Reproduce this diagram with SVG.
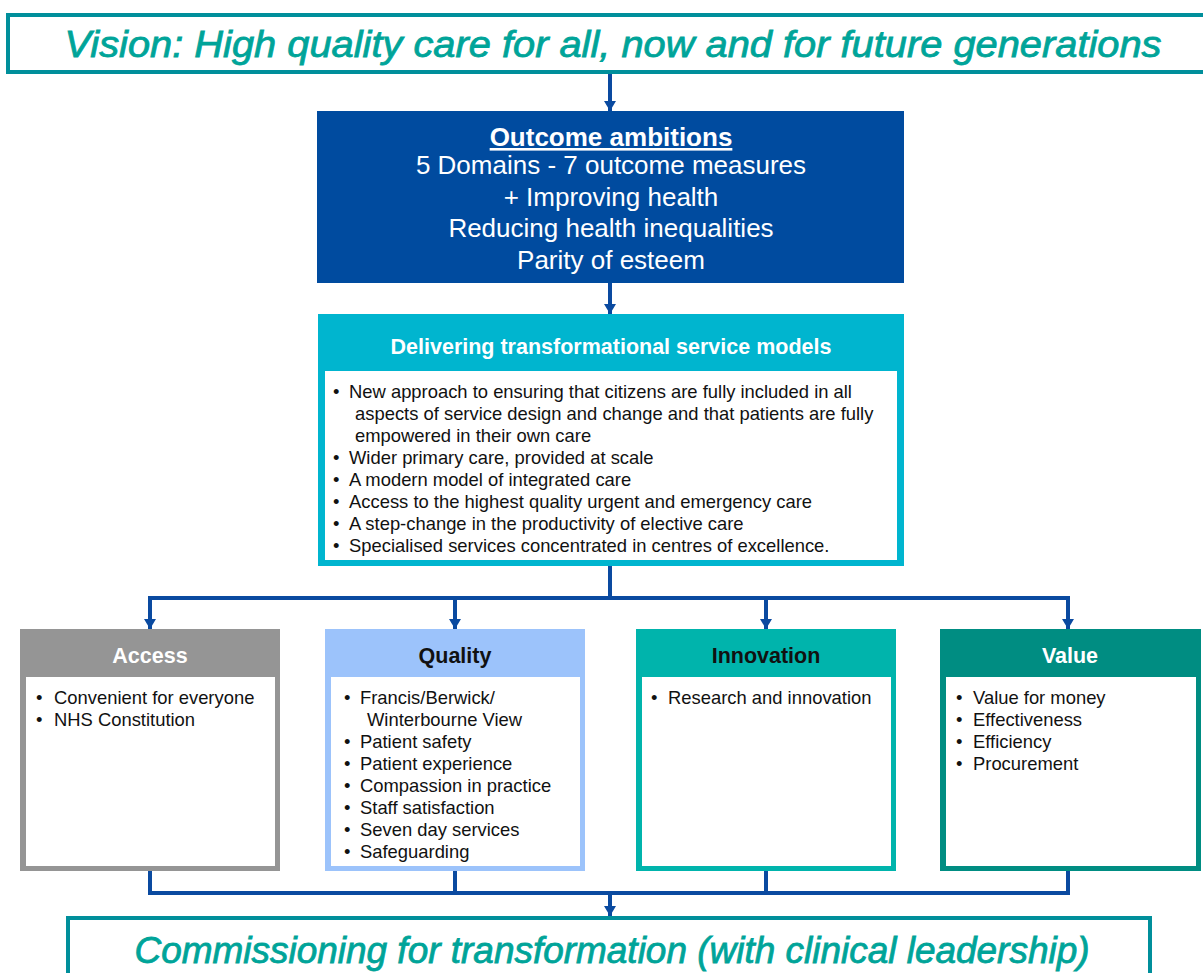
<svg xmlns="http://www.w3.org/2000/svg" width="1203" height="973" viewBox="0 0 1203 973">
<style>
text{font-family:"Liberation Sans",Arial,sans-serif}
.banner{fill:#fff;stroke:#008f9b;stroke-width:4}
.bannerText{fill:#00a499;stroke:#00a499;stroke-width:0.8;font-style:italic;font-size:37px}
.oc{fill:#fff;font-size:26px;text-anchor:middle}
.hdr{font-weight:bold;font-size:21.5px;text-anchor:middle}
.bul{font-size:18.4px;fill:#111}
.wire{fill:none;stroke:#0a4aa0;stroke-width:4}
.inner{fill:#fff}
</style>
<defs>
<marker id="ah" markerWidth="10" markerHeight="12" refX="10" refY="6" orient="auto" markerUnits="userSpaceOnUse" viewBox="0 0 10 12">
<path d="M0,0 L10,6 L0,12 Z" fill="#0a4aa0"/>
</marker>
</defs>

<g id="vision">
<rect class="banner" x="8" y="15" width="1200" height="57"/>
<text class="bannerText" x="613" y="57" text-anchor="middle" textLength="1097" lengthAdjust="spacingAndGlyphs">Vision: High quality care for all, now and for future generations</text>
</g>

<g id="outcome">
<rect x="317" y="111" width="587" height="172" fill="#004b9f"/>
<text class="oc" x="611" y="146" font-weight="bold" text-decoration="underline">Outcome ambitions</text>
<text class="oc" x="611" y="174">5 Domains  - 7 outcome measures</text>
<text class="oc" x="611" y="206">+ Improving health</text>
<text class="oc" x="611" y="237">Reducing health inequalities</text>
<text class="oc" x="611" y="269">Parity of esteem</text>
</g>

<g id="delivering">
<rect x="318" y="314" width="586" height="252" fill="#00b5cf"/>
<rect class="inner" x="325" y="371" width="572" height="189"/>
<text class="hdr" x="611" y="354" fill="#fff">Delivering transformational service models</text>
<g class="bul">
<text x="333" y="398">•</text><text x="349" y="398">New approach to ensuring that citizens are fully included in all</text>
<text x="355" y="420">aspects of service design and change and that patients are fully</text>
<text x="355" y="442">empowered in their own care</text>
<text x="333" y="464">•</text><text x="349" y="464">Wider primary care, provided at scale</text>
<text x="333" y="486">•</text><text x="349" y="486">A modern model of integrated care</text>
<text x="333" y="508">•</text><text x="349" y="508">Access to the highest quality urgent and emergency care</text>
<text x="333" y="530">•</text><text x="349" y="530">A step-change in the productivity of elective care</text>
<text x="333" y="552">•</text><text x="349" y="552">Specialised services concentrated in centres of excellence.</text>
</g>
</g>

<g id="access">
<rect x="20" y="629" width="260" height="242" fill="#959595"/>
<rect class="inner" x="26" y="677" width="249" height="189"/>
<text class="hdr" x="150" y="663" fill="#fff">Access</text>
<g class="bul">
<text x="36" y="704">•</text><text x="54" y="704">Convenient for everyone</text>
<text x="36" y="726">•</text><text x="54" y="726">NHS Constitution</text>
</g>
</g>

<g id="quality">
<rect x="325" y="629" width="260" height="242" fill="#9cc3fb"/>
<rect class="inner" x="331" y="677" width="249" height="189"/>
<text class="hdr" x="455" y="663" fill="#111">Quality</text>
<g class="bul">
<text x="344" y="704">•</text><text x="360" y="704">Francis/Berwick/</text>
<text x="367" y="726">Winterbourne View</text>
<text x="344" y="748">•</text><text x="360" y="748">Patient safety</text>
<text x="344" y="770">•</text><text x="360" y="770">Patient experience</text>
<text x="344" y="792">•</text><text x="360" y="792">Compassion in practice</text>
<text x="344" y="814">•</text><text x="360" y="814">Staff satisfaction</text>
<text x="344" y="836">•</text><text x="360" y="836">Seven day services</text>
<text x="344" y="858">•</text><text x="360" y="858">Safeguarding</text>
</g>
</g>

<g id="innovation">
<rect x="636" y="629" width="260" height="242" fill="#00b4ac"/>
<rect class="inner" x="642" y="677" width="249" height="189"/>
<text class="hdr" x="766" y="663" fill="#111">Innovation</text>
<g class="bul">
<text x="651" y="704">•</text><text x="668" y="704">Research and innovation</text>
</g>
</g>

<g id="value">
<rect x="940" y="629" width="261" height="242" fill="#008d82"/>
<rect class="inner" x="946" y="677" width="250" height="189"/>
<text class="hdr" x="1070" y="663" fill="#fff">Value</text>
<g class="bul">
<text x="956" y="704">•</text><text x="973" y="704">Value for money</text>
<text x="956" y="726">•</text><text x="973" y="726">Effectiveness</text>
<text x="956" y="748">•</text><text x="973" y="748">Efficiency</text>
<text x="956" y="770">•</text><text x="973" y="770">Procurement</text>
</g>
</g>

<g id="commissioning">
<rect class="banner" x="68" y="918" width="1082" height="70"/>
<text class="bannerText" x="612" y="963" text-anchor="middle" textLength="955" lengthAdjust="spacingAndGlyphs" style="font-size:36px">Commissioning for transformation (with clinical leadership)</text>
</g>

<g id="connectors">
<line class="wire" x1="610" y1="74" x2="610" y2="111" marker-end="url(#ah)"/>
<line class="wire" x1="610" y1="283" x2="610" y2="314" marker-end="url(#ah)"/>
<line class="wire" x1="610" y1="566" x2="610" y2="598"/>
<polyline class="wire" points="150,629 150,598 1068,598 1068,629"/>
<line class="wire" x1="150" y1="598" x2="150" y2="629" marker-end="url(#ah)"/>
<line class="wire" x1="455" y1="598" x2="455" y2="629" marker-end="url(#ah)"/>
<line class="wire" x1="766" y1="598" x2="766" y2="629" marker-end="url(#ah)"/>
<line class="wire" x1="1068" y1="598" x2="1068" y2="629" marker-end="url(#ah)"/>
<polyline class="wire" points="150,871 150,893 1068,893 1068,871"/>
<line class="wire" x1="455" y1="871" x2="455" y2="893"/>
<line class="wire" x1="766" y1="871" x2="766" y2="893"/>
<line class="wire" x1="610" y1="893" x2="610" y2="916" marker-end="url(#ah)"/>
</g>
</svg>
